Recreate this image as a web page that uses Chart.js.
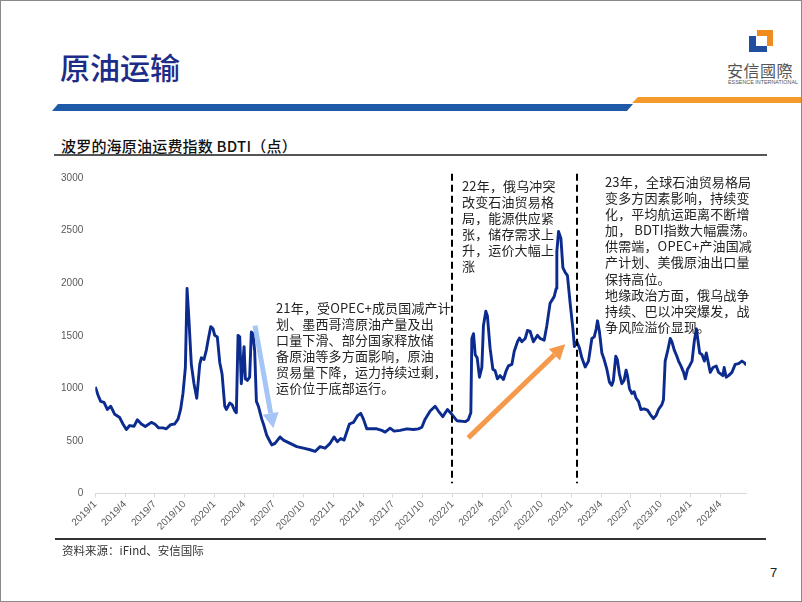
<!DOCTYPE html>
<html lang="zh-CN">
<head>
<meta charset="utf-8">
<title>原油运输</title>
<script src="https://cdn.jsdelivr.net/npm/chart.js@4.4.1/dist/chart.umd.min.js"></script>
<style>
  html, body { margin: 0; padding: 0; background: #fff; }
  #page {
    position: relative; width: 802px; height: 602px; overflow: hidden; background: #fff;
    font-family: "Noto Sans CJK SC", "Noto Sans", sans-serif;
  }
  #frame {
    position: absolute; left: 0; top: 0; width: 802px; height: 602px;
    box-sizing: border-box; border: 1px solid #8a8a8a; pointer-events: none; z-index: 5;
  }
  .abs { position: absolute; white-space: nowrap; }
  #title { left: 60px; top: 49px; font-size: 30px; line-height: 34px; color: #1d2c88; font-weight: 500; }
  #barBlue {
    left: 52px; top: 104px; width: 581px; height: 7px; background: #1f5aa8;
    clip-path: polygon(6px 0, 100% 0, calc(100% - 6px) 100%, 0 100%);
  }
  #barOrange {
    left: 632px; top: 97px; width: 170px; height: 6px; background: #f39a2b;
    clip-path: polygon(6px 0, 100% 0, 100% 100%, 0 100%);
  }
  .logoBlue { background: #1f4f9e; }
  .logoOrange { background: #f08c1e; }
  #logoText { left: 727px; top: 60px; font-size: 16px; line-height: 20px; color: #555; letter-spacing: 0.5px; }
  #logoSub { left: 728px; top: 79px; font-size: 5.4px; line-height: 6px; color: #555; font-family: "Liberation Sans", Arial, sans-serif; }
  #subtitle { left: 61px; top: 135px; font-size: 15px; line-height: 21px; color: #111; font-weight: 500; letter-spacing: 0.2px; }
  #ruleTop { left: 54px; top: 154px; width: 713px; height: 2px; background: #555; }
  #ruleBottom { left: 55px; top: 538px; width: 711px; height: 2px; background: #333; }
  #source { left: 62px; top: 542px; font-size: 11.5px; line-height: 17px; color: #333; }
  #pageNo { left: 770px; top: 564px; font-size: 13px; line-height: 18px; color: #222; font-family: "Liberation Sans", Arial, sans-serif; }
  .note { position: absolute; white-space: pre; font-size: 13px; line-height: 16.1px; color: #222; letter-spacing: 0.15px; z-index: 3; }
  #chartCanvas { position: absolute; left: 0; top: 160px; }
</style>
</head>
<body>
<div id="page">
  <div id="title" class="abs">原油运输</div>

  <div class="abs logoBlue" style="left:749px;top:36px;width:7px;height:16px;"></div>
  <div class="abs logoBlue" style="left:749px;top:46px;width:18px;height:6px;"></div>
  <div class="abs logoOrange" style="left:757px;top:30px;width:16px;height:6px;"></div>
  <div class="abs logoOrange" style="left:767px;top:30px;width:6px;height:16px;"></div>
  <div id="logoText" class="abs">安信國際</div>
  <div id="logoSub" class="abs">ESSENCE INTERNATIONAL</div>

  <div id="barBlue" class="abs"></div>
  <div id="barOrange" class="abs"></div>

  <div id="subtitle" class="abs">波罗的海原油运费指数 BDTI（点）</div>
  <div id="ruleTop" class="abs"></div>

  <canvas id="chartCanvas" width="802" height="390"></canvas>

  <div class="note" style="left:276px;top:300px;">21年，受OPEC+成员国减产计
划、墨西哥湾原油产量及出
口量下滑、部分国家释放储
备原油等多方面影响，原油
贸易量下降，运力持续过剩，
运价位于底部运行。</div>

  <div class="note" style="left:462px;top:178px;line-height:16px;">22年，俄乌冲突
改变石油贸易格
局，能源供应紧
张，储存需求上
升，运价大幅上
涨</div>

  <div class="note" style="left:605px;top:174px;">23年，全球石油贸易格局
变多方因素影响，持续变
化，平均航运距离不断增
加， BDTI指数大幅震荡。
供需端，OPEC+产油国减
产计划、美俄原油出口量
保持高位。
地缘政治方面，俄乌战争
持续、巴以冲突爆发，战
争风险溢价显现。</div>

  <div id="ruleBottom" class="abs"></div>
  <div id="source" class="abs">资料来源：iFind、安信国际</div>
  <div id="pageNo" class="abs">7</div>
  <div id="frame"></div>
</div>

<script>
// x axis labels, one every 3 months starting 2019/1
const tickLabels = [
    "2019/1", "2019/4", "2019/7", "2019/10",
    "2020/1", "2020/4", "2020/7", "2020/10",
    "2021/1", "2021/4", "2021/7", "2021/10",
    "2022/1", "2022/4", "2022/7", "2022/10",
    "2023/1", "2023/4", "2023/7", "2023/10",
    "2024/1", "2024/4",
];

// months since 2019/1 (fractional) and the BDTI reading at that time
const months = [
    0, 0.27, 0.54, 0.88, 1.21, 1.55, 1.96, 2.46, 2.79, 3.13,
    3.47, 3.9, 4.24, 4.64, 5.04, 5.65, 5.99, 6.39, 6.83, 7.16,
    7.6, 8.0, 8.34, 8.6, 8.84, 9.08, 9.25, 9.42, 9.68, 9.95,
    10.23, 10.53, 10.69, 10.96, 11.2, 11.37, 11.64, 11.87, 12.04, 12.3,
    12.55, 12.78, 13.05, 13.21, 13.55, 13.79, 14.06, 14.22, 14.39, 14.56,
    14.72, 15.0, 15.13, 15.33, 15.56, 15.73, 15.9, 16.07, 16.24, 16.44,
    16.78, 17.0, 17.28, 17.62, 17.79, 18.12, 18.63, 18.96, 19.64, 20.31,
    20.98, 21.65, 22.16, 22.66, 23.16, 23.67, 24.07, 24.4, 24.75, 25.08,
    25.35, 25.62, 26.02, 26.42, 26.76, 27.03, 27.37, 27.87, 28.38, 28.88,
    29.22, 29.72, 30.12, 30.73, 31.4, 32.07, 32.57, 32.92, 33.25, 33.76,
    34.26, 34.59, 35.03, 35.5, 35.94, 36.45, 37.3, 37.6, 37.86, 37.96,
    38.13, 38.3, 38.5, 38.73, 38.97, 39.13, 39.37, 39.53, 39.8, 40.08,
    40.31, 40.54, 40.81, 41.15, 41.42, 41.65, 42.0, 42.23, 42.56, 42.77,
    43.0, 43.34, 43.57, 43.84, 44.17, 44.58, 44.85, 45.25, 45.52, 45.85,
    46.26, 46.46, 46.53, 46.7, 46.94, 47.14, 47.37, 47.6, 47.87, 48.15,
    48.3, 48.55, 48.81, 49.05, 49.39, 49.72, 50.06, 50.3, 50.5, 50.63,
    50.83, 51.07, 51.3, 51.57, 51.83, 52.07, 52.23, 52.47, 52.63, 52.84,
    53.08, 53.31, 53.51, 53.65, 53.85, 54.09, 54.32, 54.52, 54.76, 55.0,
    55.33, 55.67, 55.94, 56.27, 56.54, 56.78, 57.12, 57.28, 57.45, 57.69,
    57.96, 58.13, 58.36, 58.63, 58.8, 59.04, 59.31, 59.48, 59.71, 59.91,
    60.16, 60.4, 60.6, 60.73, 60.93, 61.17, 61.4, 61.6, 61.83, 62.0,
    62.27, 62.6, 62.83, 63.07, 63.27, 63.4, 63.6, 63.84, 64.18, 64.51,
    64.85, 65.19, 65.42, 65.62,
];
const bdti = [
    1014, 937, 876, 866, 799, 830, 753, 722, 661, 609,
    646, 639, 701, 661, 637, 676, 661, 624, 624, 615,
    655, 661, 707, 799, 952, 1198, 1949, 1688, 1228, 1044,
    906, 1228, 1290, 1274, 1366, 1458, 1587, 1566, 1504, 1489,
    1244, 1136, 830, 799, 860, 845, 784, 768, 1504, 1489,
    1044, 1397, 1090, 1075, 1106, 1535, 1520, 1351, 876, 830,
    707, 646, 554, 492, 462, 477, 538, 508, 477, 446,
    431, 416, 400, 446, 431, 477, 538, 492, 523, 508,
    584, 661, 676, 738, 762, 707, 615, 615, 615, 600,
    584, 621, 593, 600, 615, 609, 615, 630, 707, 784,
    830, 784, 731, 799, 753, 692, 683, 701, 768, 1474,
    1520, 1320, 1290, 1106, 1198, 1596, 1734, 1688, 1382, 1182,
    1167, 1090, 1121, 1084, 1167, 1213, 1228, 1351, 1443, 1479,
    1443, 1474, 1550, 1541, 1443, 1504, 1474, 1458, 1596, 1810,
    1872, 1949, 2302, 2491, 2424, 2148, 2102, 2072, 1810, 1566,
    1397, 1443, 1382, 1290, 1203, 1259, 1474, 1489, 1566, 1642,
    1535, 1336, 1274, 1182, 1060, 1029, 1075, 1305, 1274, 1136,
    1044, 1075, 1173, 1121, 998, 952, 968, 906, 876, 799,
    805, 793, 753, 713, 743, 799, 845, 891, 1259, 1351,
    1474, 1443, 1366, 1305, 1259, 1213, 1152, 1090, 1182, 1213,
    1259, 1458, 1566, 1474, 1336, 1320, 1259, 1336, 1228, 1152,
    1198, 1213, 1152, 1136, 1121, 1198, 1106, 1121, 1152, 1228,
    1235, 1259, 1244, 1222,
];

// annotation marks, in chart units (month, index value)
const dividerMonths = [36, 48.6];
const dividerSpan = [97, 3040];
const arrows = [
    { from: [16.1, 1596], to: [17.95, 621], color: "rgba(160, 194, 246, 0.95)" },
    { from: [37.6, 529], to: [47.37, 1419], color: "#f5994a" },
];

function drawArrow(ctx, x1, y1, x2, y2, color) {
    const ang = Math.atan2(y2 - y1, x2 - x1);
    const headLen = 15;
    const headHalf = 8;
    const bx = x2 - headLen * Math.cos(ang);
    const by = y2 - headLen * Math.sin(ang);
    ctx.strokeStyle = color;
    ctx.fillStyle = color;
    ctx.lineWidth = 5;
    ctx.lineCap = "butt";
    ctx.beginPath();
    ctx.moveTo(x1, y1);
    ctx.lineTo(bx, by);
    ctx.stroke();
    ctx.beginPath();
    ctx.moveTo(x2, y2);
    ctx.lineTo(bx + headHalf * Math.sin(ang), by - headHalf * Math.cos(ang));
    ctx.lineTo(bx - headHalf * Math.sin(ang), by + headHalf * Math.cos(ang));
    ctx.closePath();
    ctx.fill();
}

const overlayPlugin = {
    id: "overlay",
    afterDatasetsDraw: (chart) => {
        const { ctx, scales: { x, y } } = chart;
        ctx.save();
        ctx.strokeStyle = "#000";
        ctx.lineWidth = 2;
        ctx.setLineDash([7, 4]);
        dividerMonths.forEach((m) => {
            const px = Math.round(x.getPixelForValue(m));
            ctx.beginPath();
            ctx.moveTo(px, y.getPixelForValue(dividerSpan[1]));
            ctx.lineTo(px, y.getPixelForValue(dividerSpan[0]));
            ctx.stroke();
        });
        ctx.setLineDash([]);
        arrows.forEach((a) => {
            drawArrow(
                ctx,
                x.getPixelForValue(a.from[0]), y.getPixelForValue(a.from[1]),
                x.getPixelForValue(a.to[0]), y.getPixelForValue(a.to[1]),
                a.color
            );
        });
        ctx.restore();
    },
};

const tickFont = { family: "'Liberation Sans', Arial, sans-serif", size: 10 };

const ctx = document.getElementById("chartCanvas").getContext("2d");
const bdtiChart = new Chart(ctx, {
    type: "line",
    data: {
        datasets: [
            {
                label: "BDTI",
                data: months.map((m, i) => ({ x: m, y: bdti[i] })),
                borderColor: "#0c2b8e",
                borderWidth: 2.9,
                pointRadius: 0,
                tension: 0,
                borderJoinStyle: "round",
            },
        ],
    },
    options: {
        responsive: false,
        animation: false,
        devicePixelRatio: 1,
        layout: {
            padding: { left: 55.3, right: 56, top: 7, bottom: 6.5 },
        },
        scales: {
            x: {
                type: "linear",
                min: 0,
                max: 65.6,
                afterFit: (scale) => { scale.height = 50; },
                grid: {
                    display: true,
                    drawOnChartArea: false,
                    drawTicks: true,
                    tickLength: 4,
                    color: "#d9d9d9",
                },
                border: { display: true, color: "#d9d9d9", width: 1 },
                ticks: {
                    stepSize: 3,
                    autoSkip: false,
                    includeBounds: false,
                    maxRotation: 45,
                    minRotation: 45,
                    padding: 1,
                    color: "#595959",
                    font: tickFont,
                    callback: (v) => (v % 3 === 0 ? tickLabels[v / 3] || "" : ""),
                },
            },
            y: {
                min: 0,
                max: 3000,
                afterFit: (scale) => { scale.width = 40; },
                grid: { display: false, drawTicks: false },
                border: { display: false },
                ticks: {
                    stepSize: 500,
                    padding: 12,
                    color: "#595959",
                    font: tickFont,
                    callback: (v) => String(v),
                },
            },
        },
        plugins: {
            legend: { display: false },
            tooltip: { enabled: false },
        },
    },
    plugins: [overlayPlugin],
});
</script>
</body>
</html>
